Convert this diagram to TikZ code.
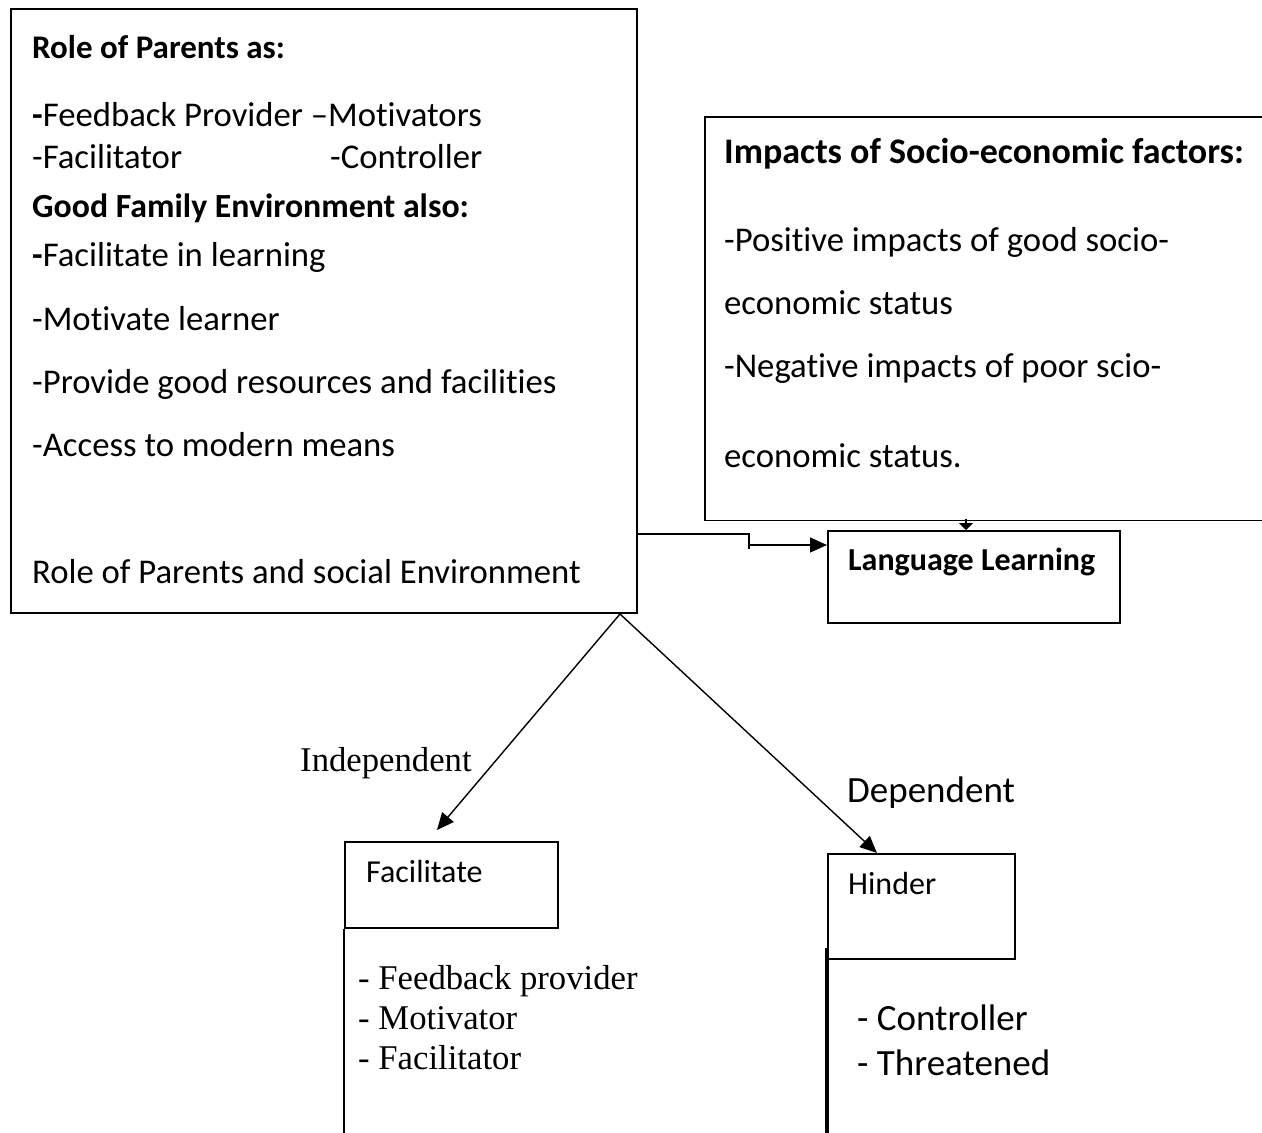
\documentclass[tikz,border=0pt]{standalone}
\usepackage{fontspec}
\setmainfont{Carlito}[RawFeature={-liga,-clig}]
\newfontfamily\tnr{Liberation Serif}
\usetikzlibrary{arrows.meta}
\begin{document}
\begin{tikzpicture}[x=1pt,y=-1pt,
  box/.style={draw,line width=1.6pt,inner sep=0pt,anchor=north west},
  conn/.style={line width=1.4pt},
  tip/.style={conn,-{Triangle[length=17pt,width=15pt]}},
  txt/.style={anchor=west,inner sep=0pt,text height=0.7em,text depth=0.2em,font=\fontsize{34.7}{40}\selectfont},
  btxt/.style={txt,font=\fontsize{33}{40}\selectfont\bfseries},
  rtitle/.style={txt,font=\fontsize{36}{42}\selectfont\bfseries},
  small/.style={txt,font=\fontsize{32}{38}\selectfont},
  serif/.style={txt,font=\fontsize{34.7}{40}\selectfont\tnr},
  big/.style={txt,font=\fontsize{37}{44}\selectfont}
]
\useasboundingbox (0,0) rectangle (1262,1133);

% boxes
\node[box,minimum width=626pt,minimum height=604pt] (parents) at (10,8) {};
\node[box,draw=none,minimum width=558pt,minimum height=402pt] (socio) at (705,117) {};
\draw[line width=1.6pt] (socio.north east) -- (socio.north west) -- (socio.south west) -- (socio.south east);
\node[box,minimum width=292pt,minimum height=92pt] (lang) at (827,530) {};
\node[box,minimum width=213pt,minimum height=86pt] (fac) at (344,841) {};
\node[box,minimum width=187pt,minimum height=105pt] (hin) at (827,853) {};

% left box text
\node[btxt] (p1) at (32,56) {Role of Parents as:};
\node[txt] (p2) at (32,124) {\textbf{-}Feedback Provider –Motivators};
\node[txt] (p3) at (32,166) {-Facilitator};
\node[txt] (p3b) at (330,166) {-Controller};
\node[btxt,font=\fontsize{33.8}{40}\selectfont\bfseries] (p4) at (32,215) {Good Family Environment also:};
\node[txt] (p5) at (32,264) {\textbf{-}Facilitate in learning};
\node[txt] (p6) at (32,328) {-Motivate learner};
\node[txt] (p7) at (32,391) {-Provide good resources and facilities};
\node[txt] (p8) at (32,454) {-Access to modern means};
\node[txt] (p9) at (32,581) {Role of Parents and social Environment};

% right box text
\node[rtitle] (s1) at (724,161) {Impacts of Socio-economic factors:};
\node[txt] (s2) at (724,249) {-Positive impacts of good socio-};
\node[txt] (s3) at (724,312) {economic status};
\node[txt] (s4) at (724,375) {-Negative impacts of poor scio-};
\node[txt] (s5) at (724,465) {economic status.};

% other texts
\node[small,font=\fontsize{32}{38}\selectfont\bfseries] (langt) at (848,568) {Language Learning};
\node[small] (fact) at (366,880) {Facilitate};
\node[small] (hint) at (848,892) {Hinder};
\node[serif] (indep) at (300,769) {Independent};
\node[big] (dep) at (847,800) {Dependent};
\node[serif] (f1) at (358,987) {- Feedback provider};
\node[serif] (f2) at (358,1027) {- Motivator};
\node[serif] (f3) at (358,1067) {- Facilitator};
\node[big] (h1) at (857,1028) {- Controller};
\node[big] (h2) at (857,1073) {- Threatened};

% connectors
\coordinate (elbow) at (749,534);
\coordinate (step) at (749,545);
\draw[conn] (parents.east |- elbow) -- (elbow) -- (749,549);
\draw[tip] (step) -- (step -| lang.west);
\coordinate (sl) at (966,519);
\draw[conn,-{Triangle[length=7pt,width=14pt]}] (sl) -- (sl |- lang.north);
\coordinate (apex) at (620,614);
\coordinate (ftip) at (437,830);
\coordinate (htip) at (877,853);
\draw[tip] (apex) -- (ftip);
\draw[tip] (apex) -- (htip);
\coordinate (fend) at (344,1133);
\draw[line width=1.8pt] (fac.south west) -- (fend);
\coordinate (hstart) at (827,948);
\coordinate (hend) at (827,1133);
\draw[line width=3.2pt] (hstart) -- (hend);
\end{tikzpicture}
\end{document}
